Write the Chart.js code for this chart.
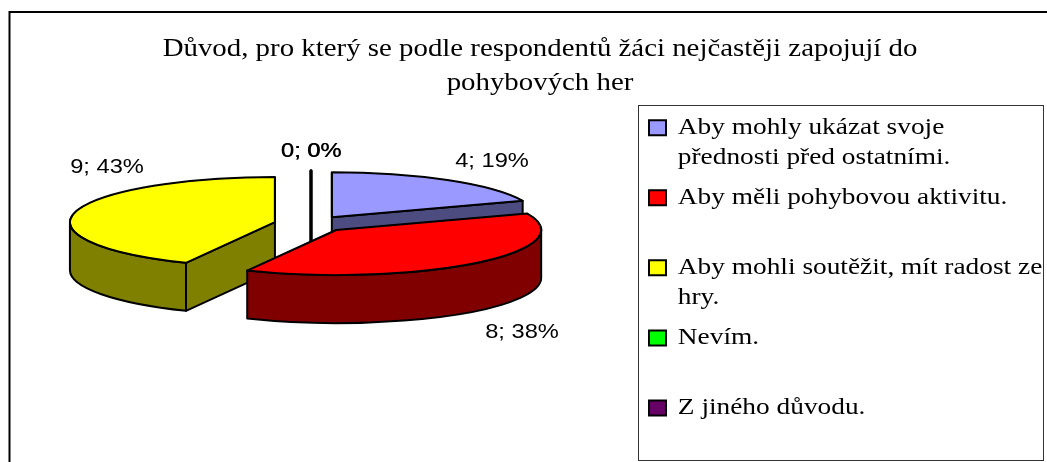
<!DOCTYPE html>
<html lang="cs">
<head>
<meta charset="utf-8">
<title>Důvod</title>
<script src="https://cdn.jsdelivr.net/npm/chart.js@4/dist/chart.umd.min.js"></script>
<style>
    html, body { margin: 0; padding: 0; background: #fff; overflow: hidden; }
    canvas { display: block; }
</style>
</head>
<body>
<canvas id="reasonChart" width="1047" height="462"></canvas>
<script>
// Data
const categories = [
    ['Aby mohly ukázat svoje', 'přednosti před ostatními.'],
    ['Aby měli pohybovou aktivitu.', ''],
    ['Aby mohli soutěžit, mít radost ze', 'hry.'],
    ['Nevím.', ''],
    ['Z jiného důvodu.', '']
];
const respondents = [4, 8, 9, 0, 0];
const titleLines = [
    'Důvod, pro který se podle respondentů žáci nejčastěji zapojují do',
    'pohybových her'
];

// Styles
const topColors = ['#9999ff', '#ff0000', '#ffff00', '#00ff00', '#660066'];
const sideColors = ['#4c4c80', '#800000', '#808000', '#008000', '#330033'];
const labelSpots = [[492, 161], [522, 332], [107, 167], [311, 151], [311.6, 151]];
const paintOrder = [0, 3, 4, 2, 1];

// 3D pie geometry
const pieX = 311, pieY = 224;
const pieRadius = 205, tilt = 0.22, depth = 48, explode = 37;

// The original picture is stretched sideways, its text too
const textStretch = 1.154;

function stretchText(ctx) {
    const plainFillText = ctx.fillText;
    ctx.fillText = function(text, x, y) {
        ctx.save();
        ctx.translate(x, y);
        ctx.scale(textStretch, 1);
        plainFillText.call(ctx, text, 0, 0);
        ctx.restore();
    };
}

function sliceCentre(arc) {
    const mid = (arc.startAngle + arc.endAngle) / 2;
    return {
        x: pieX + Math.cos(mid) * explode,
        y: pieY + Math.sin(mid) * explode * tilt
    };
}

function paintFace(ctx, c, angle, color) {
    const rx = Math.cos(angle) * pieRadius;
    const ry = Math.sin(angle) * pieRadius * tilt;
    ctx.beginPath();
    ctx.moveTo(c.x, c.y);
    ctx.lineTo(c.x + rx, c.y + ry);
    ctx.lineTo(c.x + rx, c.y + ry + depth);
    ctx.lineTo(c.x, c.y + depth);
    ctx.closePath();
    ctx.fillStyle = color;
    ctx.fill();
    ctx.stroke();
}

function paintSlice(ctx, arc, i) {
    const c = sliceCentre(arc);
    const start = arc.startAngle, end = arc.endAngle;
    const b = pieRadius * tilt;

    ctx.strokeStyle = '#000';
    ctx.lineWidth = 2;
    ctx.lineJoin = 'round';

    // An empty slice shows as a single thick line
    if (end - start === 0) {
        ctx.lineWidth = 3;
        paintFace(ctx, c, start, sideColors[i]);
        return;
    }

    // Cut faces turned towards the viewer
    if (-Math.cos(start) > 0.001) paintFace(ctx, c, start, sideColors[i]);
    if (Math.cos(end) > 0.001) paintFace(ctx, c, end, sideColors[i]);

    // Outer wall, front half only
    const from = Math.max(start, 0), to = Math.min(end, Math.PI);
    if (to > from) {
        ctx.beginPath();
        ctx.ellipse(c.x, c.y, pieRadius, b, 0, from, to);
        ctx.ellipse(c.x, c.y + depth, pieRadius, b, 0, to, from, true);
        ctx.closePath();
        ctx.fillStyle = sideColors[i];
        ctx.fill();
        ctx.stroke();
    }

    // Top face is the library's own arc, squashed
    ctx.save();
    ctx.translate(c.x, c.y);
    ctx.scale(1, tilt);
    ctx.translate(-arc.x, -arc.y);
    arc.draw(ctx);
    ctx.restore();

    ctx.beginPath();
    ctx.moveTo(c.x, c.y);
    ctx.ellipse(c.x, c.y, pieRadius, b, 0, start, end);
    ctx.closePath();
    ctx.stroke();
}

const pie3d = {
    id: 'pie3d',
    beforeDatasetsDraw(chart) {
        const arcs = chart.getDatasetMeta(0).data;
        paintOrder.forEach(i => paintSlice(chart.ctx, arcs[i], i));
    },
    beforeDatasetDraw() {
        return false;
    },
    afterDatasetsDraw(chart) {
        const ctx = chart.ctx;
        const total = respondents.reduce((a, b) => a + b, 0);
        ctx.save();
        ctx.font = '20.5px "Liberation Sans"';
        ctx.fillStyle = '#000';
        ctx.textAlign = 'center';
        ctx.textBaseline = 'middle';
        respondents.forEach((v, i) => {
            const text = v + '; ' + Math.round(v / total * 100) + '%';
            ctx.fillText(text, labelSpots[i][0], labelSpots[i][1]);
        });
        ctx.restore();
    }
};

const frame = {
    id: 'frame',
    afterLayout(chart) {
        const legend = chart.legend;
        legend.left = 639;
        legend.right = 1043;
        legend.top = 106;
        legend.bottom = 461;
    },
    beforeDraw(chart) {
        const ctx = chart.ctx;
        ctx.save();
        ctx.strokeStyle = '#000';
        ctx.lineWidth = 2;
        ctx.beginPath();
        ctx.moveTo(9.5, 462);
        ctx.lineTo(9.5, 12);
        ctx.lineTo(1047, 12);
        ctx.stroke();
        ctx.strokeStyle = '#333';
        ctx.lineWidth = 1;
        ctx.strokeRect(638.5, 105.5, 405, 355);
        ctx.restore();
    }
};

const reasonCtx = document.getElementById('reasonChart').getContext('2d');
stretchText(reasonCtx);

new Chart(reasonCtx, {
    type: 'pie',
    data: {
        labels: categories,
        datasets: [{
            data: respondents,
            backgroundColor: topColors,
            borderColor: '#000',
            borderWidth: 2,
            radius: pieRadius
        }]
    },
    options: {
        responsive: false,
        animation: false,
        events: [],
        layout: { padding: { left: 33 } },
        plugins: {
            title: {
                display: true,
                text: titleLines,
                color: '#000',
                font: { family: '"Liberation Serif"', size: 25, weight: 'normal', lineHeight: 1.36 },
                padding: { top: 32, bottom: 4 }
            },
            legend: {
                position: 'right',
                align: 'start',
                labels: {
                    color: '#000',
                    boxWidth: 17,
                    boxHeight: 15,
                    padding: 10,
                    font: { family: '"Liberation Serif"', size: 23.7, lineHeight: 1.266 }
                }
            },
            tooltip: { enabled: false }
        }
    },
    plugins: [frame, pie3d]
});
</script>
</body>
</html>
